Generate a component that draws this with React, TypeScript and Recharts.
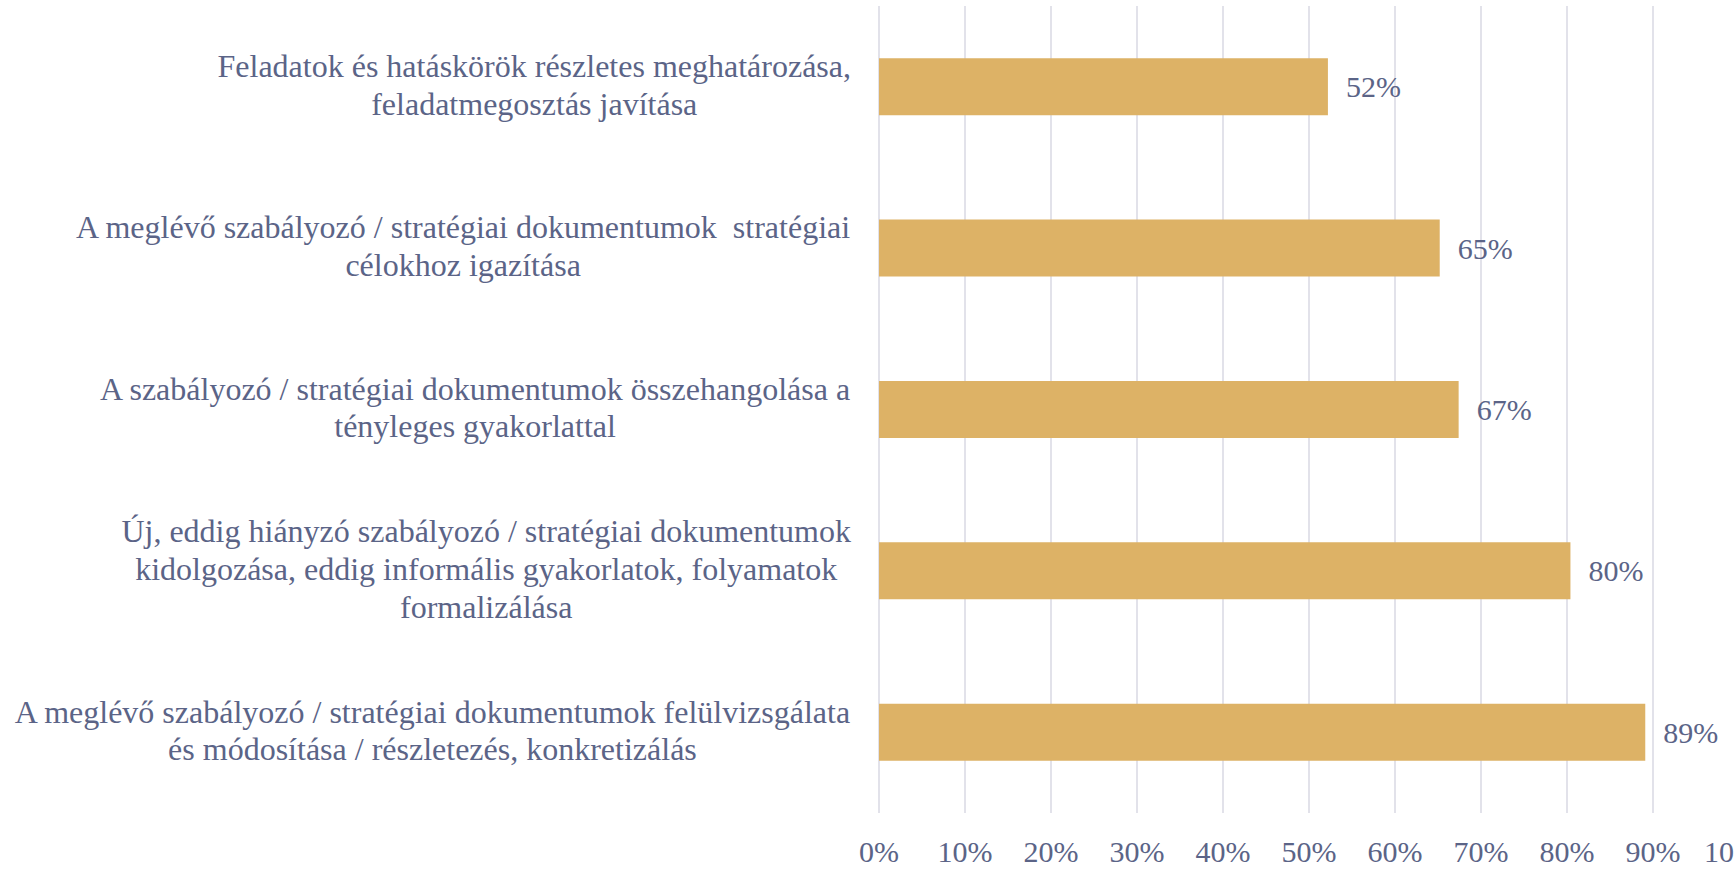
import { BarChart, Bar, XAxis, YAxis, CartesianGrid, LabelList } from 'recharts';

const categories = [
  'Feladatok és hatáskörök részletes meghatározása,\nfeladatmegosztás javítása',
  'A meglévő szabályozó / stratégiai dokumentumok  stratégiai\ncélokhoz igazítása',
  'A szabályozó / stratégiai dokumentumok összehangolása a\ntényleges gyakorlattal',
  'Új, eddig hiányzó szabályozó / stratégiai dokumentumok\nkidolgozása, eddig informális gyakorlatok, folyamatok\nformalizálása',
  'A meglévő szabályozó / stratégiai dokumentumok felülvizsgálata\nés módosítása / részletezés, konkretizálás',
];
const shares = [52.2, 65.2, 67.4, 80.4, 89.1];
const xTicks = [0, 10, 20, 30, 40, 50, 60, 70, 80, 90, 100];

const data = categories.map((name, i) => ({ name, value: shares[i] }));

const FONT = '"Liberation Serif", "Times New Roman", serif';
const CAT_SIZE = 32;
const NUM_SIZE = 30;
const TEXT = '#5b6487';
const LINE_H = 37.6;

let ctx: CanvasRenderingContext2D | null = null;
function measure(s: string) {
  if (!ctx) {
    ctx = document.createElement('canvas').getContext('2d');
  }
  if (!ctx) return s.length * CAT_SIZE * 0.45;
  ctx.font = `${CAT_SIZE}px "Liberation Serif"`;
  return ctx.measureText(s).width;
}

// wrapped lines centred on each other, block right-aligned at the axis
function CategoryTick(props: any) {
  const { x, y, payload } = props;
  const lines: string[] = String(payload.value).split('\n');
  const maxW = Math.max(...lines.map(measure));
  const cx = x - maxW / 2;
  const top = y - ((lines.length - 1) * LINE_H) / 2 - 2;
  return (
    <text x={cx} y={top} textAnchor="middle" fill={TEXT} fontSize={CAT_SIZE} fontFamily={FONT} style={{ whiteSpace: 'pre' }}>
      {lines.map((l, i) => (
        <tspan key={i} x={cx} y={top + i * LINE_H} dominantBaseline="central">
          {l}
        </tspan>
      ))}
    </text>
  );
}

export default function App() {
  return (
    <div style={{ position: 'absolute', left: 0, top: 0, width: 1734, height: 869, overflow: 'hidden', background: '#fff' }}>
      <BarChart
        width={1760}
        height={869}
        data={data}
        layout="vertical"
        margin={{ top: 6, right: 21, bottom: 0, left: 0 }}
        barCategoryGap="32.3%"
      >
        <CartesianGrid horizontal={false} stroke="#d9d9e3" strokeWidth={1.5} />
        <XAxis
          type="number"
          domain={[0, 100]}
          ticks={xTicks}
          interval={0}
          tickFormatter={(v: number) => `${v}%`}
          axisLine={false}
          tickLine={false}
          height={56}
          tickMargin={22}
          tick={{ fill: TEXT, fontSize: NUM_SIZE, fontFamily: FONT }}
        />
        <YAxis
          type="category"
          dataKey="name"
          width={879}
          axisLine={false}
          tickLine={false}
          tickSize={0}
          tickMargin={28}
          interval={0}
          tick={<CategoryTick />}
        />
        <Bar dataKey="value" fill="#ddb266" isAnimationActive={false}>
          <LabelList
            dataKey="value"
            position="right"
            offset={18}
            formatter={(v: any) => `${Math.round(Number(v))}%`}
            fill={TEXT}
            fontSize={NUM_SIZE}
            fontFamily={FONT}
          />
        </Bar>
      </BarChart>
    </div>
  );
}
